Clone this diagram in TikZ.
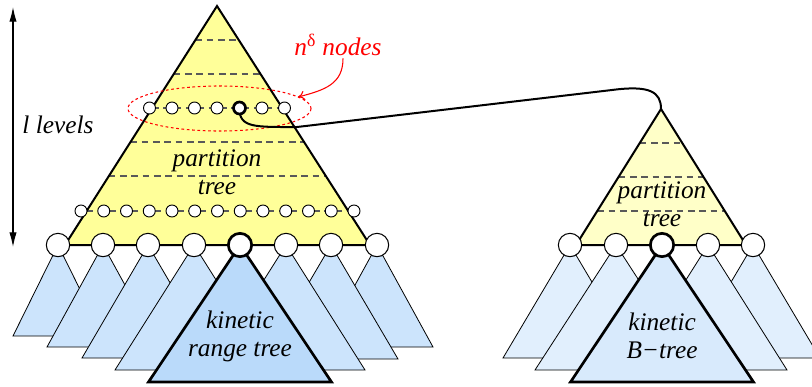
\documentclass[tikz,border=0pt]{standalone}
\usepackage{fontspec}
\setmainfont{Liberation Serif}
\usetikzlibrary{arrows.meta}
\definecolor{ptyellow}{RGB}{255,255,153}
\definecolor{ptpale}{RGB}{255,255,200}
\definecolor{subblue}{RGB}{204,228,252}
\definecolor{kinblue}{RGB}{186,218,250}
\definecolor{subpale}{RGB}{225,239,253}
\definecolor{kinpale}{RGB}{216,234,252}
\tikzset{
  treetext/.style={
    font=\fontsize{19}{21}\selectfont\itshape,
    align=center,
    inner sep=0pt
  },
  ptree/.style={
    draw,
    line width=1.5pt,
    line join=miter
  },
  levelline/.style={
    draw=black!65,
    line width=0.8pt,
    dash pattern=on 5pt off 3.5pt
  },
  subtree/.style={
    draw,
    line width=0.6pt,
    line join=miter
  },
  kintree/.style={
    draw,
    line width=2pt,
    line join=miter
  },
  bignode/.style={
    shape=circle,
    draw,
    fill=white,
    inner sep=0pt,
    minimum size=17.5pt,
    line width=0.8pt
  },
  smallnode/.style={
    shape=circle,
    draw,
    fill=white,
    inner sep=0pt,
    minimum size=9pt,
    line width=0.7pt
  },
  hot/.style={
    line width=2pt
  },
  link/.style={
    draw,
    line width=1.5pt
  }
}

\begin{document}
\begin{tikzpicture}[x=0.75pt,y=-0.75pt]
    \useasboundingbox (0,0) rectangle (812,386);
    \clip (0,0) rectangle (812,386);

    % height of the partition tree
    \coordinate (ltop) at (13,7);
    \coordinate (lbot) at (13,247);
    \draw[line width=0.8pt,{Latex[length=11pt,width=5.5pt]}-{Latex[length=11pt,width=5.5pt]}] (ltop) -- (lbot);
    \node[treetext] (levels) at (58,125) {l levels};

    % left: kinetic range trees below the leaves
    \foreach \x/\w/\b in {58/45/336, 103/56/347, 377/56/347, 148/66/358, 331/67/359, 194/79/370, 286/79/370}{
        \draw[subtree,fill=subblue] (\x,245) -- (\x-\w,\b) -- (\x+\w,\b) -- cycle;
    }
    \draw[kintree,fill=kinblue] (240,245) -- (148.5,382) -- (331.5,382) -- cycle;
    \node[treetext] (krt) at (240,336) {kinetic\\range tree};

    % left: partition tree
    \coordinate (ptop) at (217,6);
    \fill[ptyellow] (ptop) -- (65,245) -- (370,245) -- cycle;
    \foreach \y in {40,74,108,142,176,211}{
        \draw[levelline] ({217-0.638*(\y-6)},\y) -- ({217+0.638*(\y-6)},\y);
    }
    \draw[ptree] (ptop) -- (65,245) -- (370,245) -- cycle;
    \node[treetext] (pt) at (217,172) {partition\\tree};

    % n^delta nodes on one level
    \draw[red,line width=0.8pt,dash pattern=on 2pt off 2pt] (219.5,108.5) ellipse [x radius=91.5, y radius=22.5];
    \node[treetext,red] (nd) at (338,45) {n\textsuperscript{\upshape δ} nodes};
    \coordinate (ndend) at (298,97);
    \draw[red,line width=0.8pt,-{To[length=5pt,width=7pt]}] ([xshift=3.75pt,yshift=-2pt]nd.south) .. controls (343,84) and (325,90) .. (ndend);

    % right: kinetic B-trees below the leaves
    \foreach \x/\w/\b in {570/67/358, 753/67/358, 616/81/370, 708/79/370}{
        \draw[subtree,fill=subpale] (\x,245) -- (\x-\w,\b) -- (\x+\w,\b) -- cycle;
    }
    \draw[kintree,fill=kinpale] (662,245) -- (570.5,382) -- (753.5,382) -- cycle;
    \node[treetext] (kbt) at (662,336) {kinetic\\B−tree};

    % right: partition tree
    \coordinate (rtop) at (661,109);
    \fill[ptpale] (rtop) -- (576,245) -- (746,245) -- cycle;
    \foreach \y in {143,177,211}{
        \draw[levelline] ({661-0.625*(\y-109)},\y) -- ({661+0.625*(\y-109)},\y);
    }
    \draw[ptree] (rtop) -- (576,245) -- (746,245) -- cycle;
    \node[treetext] (rpt) at (662,204) {partition\\tree};

    % nodes of the left tree
    \foreach \i in {0,...,6}{
        \coordinate (u\i) at (149.5+22.5*\i,108);
    }
    \draw[link] (u4) .. controls (239,128) and (255,127) .. (297,127) -- (612,90) .. controls (650,85) and (661,92) .. (rtop);
    \foreach \i in {0,1,2,3,5,6}{
        \node[smallnode] (s\i) at (u\i) {};
    }
    \node[smallnode,hot] (s4) at (u4) {};
    \foreach \i in {0,...,12}{
        \node[smallnode] (m\i) at (81+22.75*\i,211) {};
    }
    \foreach \x [count=\i] in {58,103,148,194,286,331,377}{
        \node[bignode] (b\i) at (\x,245) {};
    }
    \node[bignode,hot] (bk) at (240,245) {};

    % nodes of the right tree
    \foreach \x [count=\i] in {570,616,708,753}{
        \node[bignode] (r\i) at (\x,245) {};
    }
    \node[bignode,hot] (rk) at (662,245) {};
\end{tikzpicture}
\end{document}
